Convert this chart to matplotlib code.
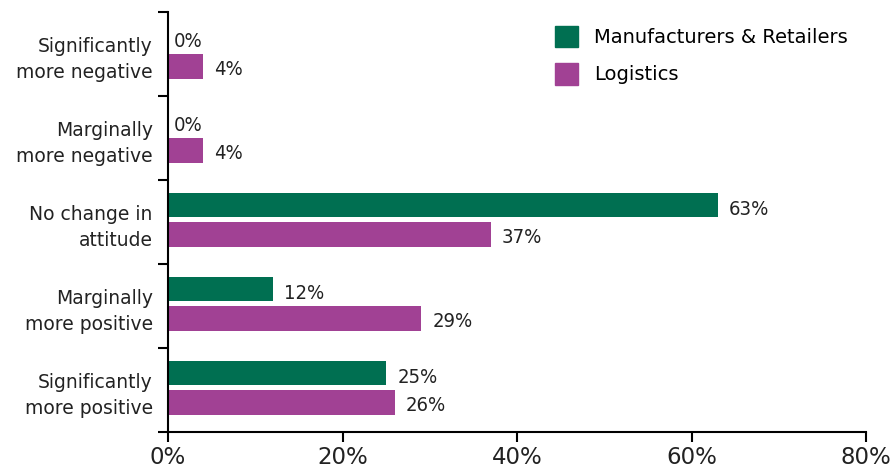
import matplotlib.pyplot as plt
from matplotlib.patches import Patch
import numpy as np

# Survey responses: change in attitude, share of respondents (%)
categories = [
    'Significantly\nmore negative',
    'Marginally\nmore negative',
    'No change in\nattitude',
    'Marginally\nmore positive',
    'Significantly\nmore positive',
]
manufacturers = [0, 0, 63, 12, 25]
logistics = [4, 4, 37, 29, 26]
series_names = ['Manufacturers & Retailers', 'Logistics']
x_ticks = [0, 20, 40, 60, 80]

GREEN = '#006F51'
PURPLE = '#A14194'

plt.rcParams['font.family'] = ['DejaVu Sans']

fig = plt.figure(figsize=(8.96, 4.68), dpi=100)
ax = fig.add_axes([168 / 896, 1 - 432 / 468, 698 / 896, 420 / 468])

pos = np.arange(len(categories)) + 0.5
bar_h = 0.29
ax.barh(pos - 0.2, manufacturers, height=bar_h, color=GREEN)
ax.barh(pos + 0.15, logistics, height=bar_h, color=PURPLE)

# value labels in a condensed face, just past the bar ends
for y, v in zip(pos - 0.2, manufacturers):
    ax.annotate(f'{v}%', (v, y), xytext=(8 if v else 4, -3), textcoords='offset points',
                va='center', ha='left', fontsize=14.5, fontstretch='condensed', color='#222222')
for y, v in zip(pos + 0.15, logistics):
    ax.annotate(f'{v}%', (v, y), xytext=(8, -2), textcoords='offset points',
                va='center', ha='left', fontsize=14.5, fontstretch='condensed', color='#222222')

ax.set_ylim(len(categories), 0)
ax.set_xlim(0, 80)
ax.set_xticks(x_ticks)
ax.set_xticklabels([f'{t}%' for t in x_ticks], fontsize=16.5, color='#222222')

# ticks at category boundaries, labels centred between them
ax.set_yticks(np.arange(len(categories) + 1))
ax.set_yticklabels([])
ax.set_yticks(pos, minor=True)
ax.set_yticklabels(categories, minor=True, fontsize=13.5, color='#222222', linespacing=1.45)
ax.tick_params(axis='y', which='minor', length=0, pad=11)
ax.tick_params(axis='y', which='major', length=7, width=1.5)
ax.tick_params(axis='x', length=7, width=1.5, pad=3)

for side in ['top', 'right']:
    ax.spines[side].set_visible(False)
for side in ['left', 'bottom']:
    ax.spines[side].set_linewidth(1.5)

handles = [Patch(color=GREEN), Patch(color=PURPLE)]
ax.legend(handles, series_names, loc='upper left', bbox_to_anchor=(0.535, 1.0),
          frameon=False, fontsize=14, handlelength=1.2, handleheight=1.3,
          handletextpad=0.8, labelspacing=0.85, borderaxespad=0.3)

fig.savefig('out.png', dpi=100, facecolor='white')
